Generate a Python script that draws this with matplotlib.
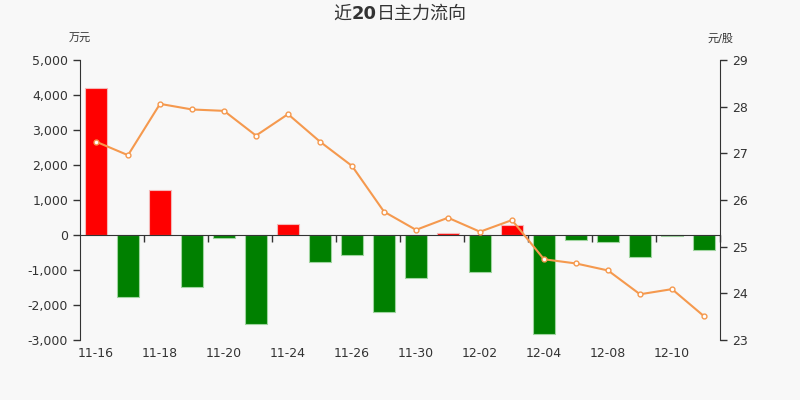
import matplotlib
matplotlib.use("Agg")
import matplotlib.pyplot as plt
import matplotlib.transforms as mtransforms
from matplotlib.ticker import FuncFormatter, FixedLocator
from matplotlib.offsetbox import TextArea, HPacker, AnchoredOffsetbox

plt.rcParams['font.family'] = ['DejaVu Sans', 'Noto Sans CJK SC']

dates = ["11-16", "11-17", "11-18", "11-19", "11-20", "11-23", "11-24", "11-25",
         "11-26", "11-27", "11-30", "12-01", "12-02", "12-03", "12-04", "12-07",
         "12-08", "12-09", "12-10", "12-11"]
flow = [4207, -1763, 1286, -1495, -95, -2552, 305, -781, -571, -2190,
        -1229, 57, -1057, 286, -2838, -133, -200, -629, -38, -419]
price = [27.25, 26.96, 28.06, 27.94, 27.91, 27.38, 27.84, 27.25, 26.73, 25.75,
         25.36, 25.62, 25.32, 25.57, 24.73, 24.64, 24.49, 23.98, 24.09, 23.51]
left_ticks = [-3000, -2000, -1000, 0, 1000, 2000, 3000, 4000, 5000]
right_ticks = [23, 24, 25, 26, 27, 28, 29]

title_parts = [("近", "normal"), ("20", "bold"), ("日主力流向", "normal")]
left_unit = "万元"
right_unit = "元/股"

bg = "#f8f8f8"
txt = "#333333"
fig = plt.figure(figsize=(8, 4), dpi=100, facecolor=bg)
ax = fig.add_axes([0.1, 0.15, 0.8, 0.7])
ax.set_facecolor(bg)

n = len(dates)
x = list(range(n))
colors = ["#ff0000" if v >= 0 else "#008000" for v in flow]
edges = ["#f4b8b8" if v >= 0 else "#9fd49f" for v in flow]
ax.bar(x, flow, width=0.69, color=colors, edgecolor=edges, linewidth=0.8, zorder=2)

ax.set_xlim(-0.5, n - 0.5)
ax.set_ylim(left_ticks[0], left_ticks[-1])
ax.set_yticks(left_ticks)
ax.yaxis.set_major_formatter(FuncFormatter(lambda v, p: f"{int(v):,}"))
ax.tick_params(axis='y', colors=txt, labelsize=9, length=5, width=1, labelcolor=txt)

for s in ['top', 'right']:
    ax.spines[s].set_visible(False)
ax.spines['left'].set_color(txt)
ax.spines['bottom'].set_position(('data', 0))
ax.spines['bottom'].set_color(txt)
ax.spines['bottom'].set_zorder(3)

bounds = [i + 1.5 for i in range(0, n - 1, 2)]
ax.xaxis.set_major_locator(FixedLocator(bounds))
ax.set_xticklabels([])
ax.tick_params(axis='x', colors=txt, length=5, width=1)

trans = mtransforms.blended_transform_factory(ax.transData, ax.transAxes)
for i in range(0, n, 2):
    ax.text(i, -0.025, dates[i], transform=trans, ha='center', va='top',
            fontsize=9, color=txt)

ax2 = ax.twinx()
ax2.set_ylim(right_ticks[0], right_ticks[-1])
ax2.set_yticks(right_ticks)
ax2.plot(x, price, color="#f5994e", lw=1.5, marker='o', markersize=3.5,
         markerfacecolor='white', markeredgecolor="#f5994e", markeredgewidth=1, zorder=4)
for s in ['top', 'left', 'bottom']:
    ax2.spines[s].set_visible(False)
ax2.spines['right'].set_color(txt)
ax2.tick_params(axis='y', colors=txt, labelsize=9, length=5, width=1, labelcolor=txt)

areas = [TextArea(t, textprops=dict(fontsize=13, color=txt, fontweight=w,
                                    family=['DejaVu Sans', 'Noto Sans CJK SC']))
         for t, w in title_parts]
pack = HPacker(children=areas, pad=0, sep=0, align='baseline')
ab = AnchoredOffsetbox(loc='center', child=pack, pad=0, frameon=False,
                       bbox_to_anchor=(0.5, 0.965), bbox_transform=fig.transFigure,
                       borderpad=0)
fig.add_artist(ab)

fig.text(0.1, 0.902, left_unit, ha='center', va='center', fontsize=8, color=txt)
fig.text(0.9, 0.902, right_unit, ha='center', va='center', fontsize=8, color=txt)

fig.savefig("out.png", dpi=100, facecolor=bg)
